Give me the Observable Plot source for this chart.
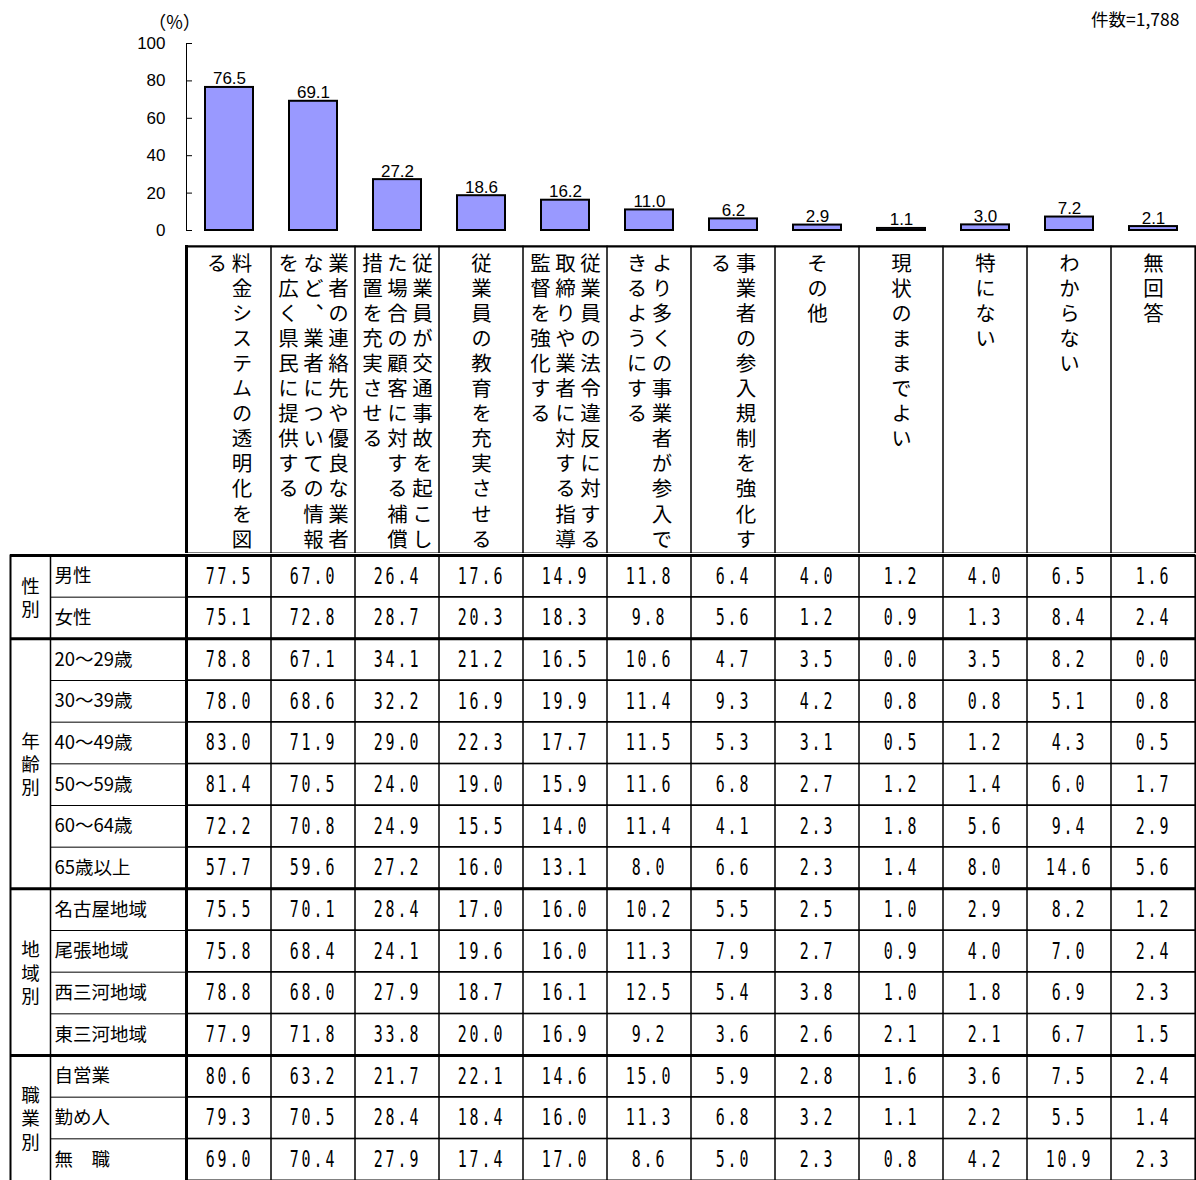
<!DOCTYPE html>
<html><head><meta charset="utf-8">
<script src="https://cdn.jsdelivr.net/npm/d3@7"></script>
<script src="https://cdn.jsdelivr.net/npm/@observablehq/plot@0.6"></script>
<style>
html,body{margin:0;padding:0;background:#fff;overflow:hidden;}
#chart svg{display:block;}
g[aria-description="header"] text{writing-mode:vertical-rl;letter-spacing:4.6px;}
g[aria-description="nums"] text{letter-spacing:4.5px;}
</style></head><body><div id="chart"></div>
<script>
// ---- data ----
const categories = [
  "料金システムの透明化を図る",
  "業者の連絡先や優良な業者など、業者についての情報を広く県民に提供する",
  "従業員が交通事故を起こした場合の顧客に対する補償措置を充実させる",
  "従業員の教育を充実させる",
  "従業員の法令違反に対する取締りや業者に対する指導監督を強化する",
  "より多くの事業者が参入できるようにする",
  "事業者の参入規制を強化する",
  "その他",
  "現状のままでよい",
  "特にない",
  "わからない",
  "無回答"
];
const overall = [76.5, 69.1, 27.2, 18.6, 16.2, 11.0, 6.2, 2.9, 1.1, 3.0, 7.2, 2.1];
const yTicks = [0, 20, 40, 60, 80, 100];
const unitLabel = "（%）";
const countLabel = "件数=1,788";

const groupNames = ["性別", "年齢別", "地域別", "職業別"];

const genderLabels = ["男性", "女性"];
const genderValues = [
  [77.5, 67.0, 26.4, 17.6, 14.9, 11.8, 6.4, 4.0, 1.2, 4.0, 6.5, 1.6],
  [75.1, 72.8, 28.7, 20.3, 18.3, 9.8, 5.6, 1.2, 0.9, 1.3, 8.4, 2.4]
];
const ageLabels = ["20～29歳", "30～39歳", "40～49歳", "50～59歳", "60～64歳", "65歳以上"];
const ageValues = [
  [78.8, 67.1, 34.1, 21.2, 16.5, 10.6, 4.7, 3.5, 0.0, 3.5, 8.2, 0.0],
  [78.0, 68.6, 32.2, 16.9, 19.9, 11.4, 9.3, 4.2, 0.8, 0.8, 5.1, 0.8],
  [83.0, 71.9, 29.0, 22.3, 17.7, 11.5, 5.3, 3.1, 0.5, 1.2, 4.3, 0.5],
  [81.4, 70.5, 24.0, 19.0, 15.9, 11.6, 6.8, 2.7, 1.2, 1.4, 6.0, 1.7],
  [72.2, 70.8, 24.9, 15.5, 14.0, 11.4, 4.1, 2.3, 1.8, 5.6, 9.4, 2.9],
  [57.7, 59.6, 27.2, 16.0, 13.1, 8.0, 6.6, 2.3, 1.4, 8.0, 14.6, 5.6]
];
const regionLabels = ["名古屋地域", "尾張地域", "西三河地域", "東三河地域"];
const regionValues = [
  [75.5, 70.1, 28.4, 17.0, 16.0, 10.2, 5.5, 2.5, 1.0, 2.9, 8.2, 1.2],
  [75.8, 68.4, 24.1, 19.6, 16.0, 11.3, 7.9, 2.7, 0.9, 4.0, 7.0, 2.4],
  [78.8, 68.0, 27.9, 18.7, 16.1, 12.5, 5.4, 3.8, 1.0, 1.8, 6.9, 2.3],
  [77.9, 71.8, 33.8, 20.0, 16.9, 9.2, 3.6, 2.6, 2.1, 2.1, 6.7, 1.5]
];
const jobLabels = ["自営業", "勤め人", "無　職"];
const jobValues = [
  [80.6, 63.2, 21.7, 22.1, 14.6, 15.0, 5.9, 2.8, 1.6, 3.6, 7.5, 2.4],
  [79.3, 70.5, 28.4, 18.4, 16.0, 11.3, 6.8, 3.2, 1.1, 2.2, 5.5, 1.4],
  [69.0, 70.4, 27.9, 17.4, 17.0, 8.6, 5.0, 2.3, 0.8, 4.2, 10.9, 2.3]
];

// ---- derived tables ----
const W = 1196;
const CJK = "'Noto Sans CJK JP', sans-serif";
const LAT = "'Liberation Sans', Arial, sans-serif";

const barData = categories.map((c, i) => ({cat: c, v: overall[i]}));

const groups = [
  {name: groupNames[0], labels: genderLabels, values: genderValues},
  {name: groupNames[1], labels: ageLabels, values: ageValues},
  {name: groupNames[2], labels: regionLabels, values: regionValues},
  {name: groupNames[3], labels: jobLabels, values: jobValues}
];
const rows = [];
const groupSpans = [];
let idx = 0;
groups.forEach(g => {
  const start = idx;
  g.labels.forEach((l, k) => { rows.push({label: l, i: idx, values: g.values[k]}); idx++; });
  groupSpans.push({name: g.name, start, end: idx});
});
const nRows = rows.length;
const cells = rows.flatMap(r => categories.map((c, j) => ({cat: c, i: r.i, v: r.values[j]})));

const headerLines = [];
categories.forEach(c => {
  const parts = c.match(/.{1,12}/gu);
  const n = parts.length;
  parts.forEach((t, j) => headerLines.push({cat: c, text: t, offset: ((n - 1) / 2 - j) * 25}));
});
const offsets = Array.from(new Set(headerLines.map(d => d.offset)));

// ---- bar chart ----
const barPlot = Plot.plot({
  width: W, height: 245,
  marginLeft: 186, marginRight: 1, marginTop: 43, marginBottom: 15,
  style: {fontFamily: LAT, fontSize: "17px", background: "#fff", color: "#000"},
  x: {domain: categories, paddingInner: 0.43, paddingOuter: 0.215, axis: null},
  y: {domain: [0, 100]},
  marks: [
    Plot.frame({anchor: "left", stroke: "#000"}),
    Plot.axisY({ticks: yTicks, tickSize: -6, tickPadding: 27, fontSize: 17, label: null, stroke: "#000"}),
    Plot.barY(barData, {x: "cat", y: "v", fill: "#9999ff", stroke: "#000", strokeWidth: 2}),
    Plot.text(barData, {x: "cat", y: "v", text: d => d.v.toFixed(1), lineAnchor: "bottom", dy: -3, fontSize: 17}),
    Plot.text([unitLabel], {frameAnchor: "top-left", dx: -12, dy: -20, textAnchor: "middle", lineAnchor: "middle", fontFamily: CJK, fontSize: 18}),
    Plot.text([countLabel], {frameAnchor: "top-right", dx: -16, dy: -23, textAnchor: "end", lineAnchor: "middle", fontFamily: CJK, fontSize: 17.5})
  ]
});

// ---- table header ----
const headerPlot = Plot.plot({
  width: W, height: 308,
  marginLeft: 186, marginRight: 1, marginTop: 1, marginBottom: 0,
  style: {background: "#fff", color: "#000"},
  x: {domain: categories, padding: 0, axis: null},
  marks: [
    Plot.cell(categories, {x: d => d, fill: "none", stroke: "#000"}),
    ...offsets.map(o => Plot.text(headerLines.filter(d => d.offset === o), {
      x: "cat", text: "text", frameAnchor: "top", dx: o, dy: 6,
      textAnchor: "start", fontSize: 20.5, fontFamily: CJK, ariaDescription: "header"
    })),
    Plot.frame({anchor: "top", strokeWidth: 2}),
    Plot.frame({anchor: "left", strokeWidth: 3}),
    Plot.frame({anchor: "right", strokeWidth: 1.5})
  ]
});

// ---- table body ----
const bodyPlot = Plot.plot({
  width: W, height: 627,
  marginLeft: 186, marginRight: 1, marginTop: 2, marginBottom: 0,
  style: {background: "#fff", color: "#000"},
  x: {domain: categories, padding: 0, axis: null},
  y: {domain: [0, nRows], reverse: true, axis: null},
  marks: [
    Plot.barY(cells, {x: "cat", y1: "i", y2: d => d.i + 1, fill: "none", stroke: "#000"}),
    Plot.ruleY(rows, {y: "i", insetLeft: -136, stroke: "#000"}),
    Plot.ruleY(groupSpans, {y: "start", insetLeft: -176, strokeWidth: 3, stroke: "#000"}),
    Plot.frame({anchor: "left", strokeWidth: 3}),
    Plot.frame({anchor: "left", insetLeft: -136, strokeWidth: 1.5}),
    Plot.frame({anchor: "left", insetLeft: -176, strokeWidth: 2}),
    Plot.frame({anchor: "right", strokeWidth: 1.5}),
    Plot.text(cells, {x: "cat", y: d => d.i + 0.5, text: d => d.v.toFixed(1), fontFamily: "'DejaVu Sans Mono', monospace", fontSize: 23, ariaDescription: "nums"}),
    Plot.text(rows, {y: d => d.i + 0.5, text: "label", frameAnchor: "left", dx: -132, textAnchor: "start", fontSize: 18.5, fontFamily: CJK}),
    Plot.text(groupSpans, {y: d => (d.start + d.end) / 2, text: d => [...d.name].join("\n"), frameAnchor: "left", dx: -156, textAnchor: "middle", lineHeight: 1.25, fontSize: 18.5, fontFamily: CJK})
  ]
});

// post-processing: vertical writing for header, condensed numbers
headerPlot.querySelectorAll('g[aria-description="header"] text').forEach(t => t.removeAttribute("y"));
bodyPlot.querySelectorAll('g[aria-description="nums"] text').forEach(t => {
  const tr = t.getAttribute("transform");
  if (tr) t.setAttribute("transform", tr + " scale(0.65,1)");
});

const root = document.getElementById("chart");
root.append(barPlot, headerPlot, bodyPlot);
</script>
</body></html>
